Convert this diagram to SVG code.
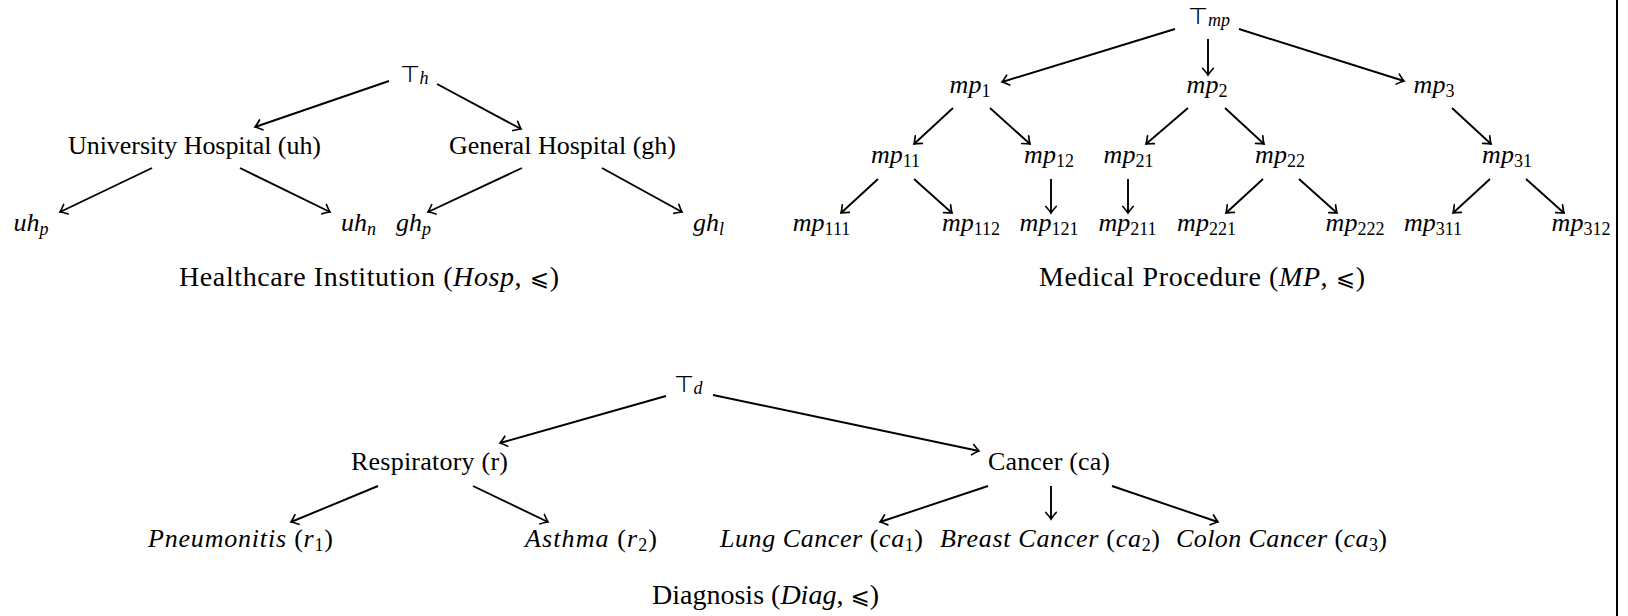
<svg xmlns="http://www.w3.org/2000/svg" width="1628" height="616" viewBox="0 0 1628 616">
<style>
.t{font-family:"Liberation Serif","Times New Roman",serif;font-size:26px;fill:#000;text-anchor:middle}
.cap{font-size:28px}
.m{font-style:italic}
.s{font-size:18px}
.top{font-family:"DejaVu Sans",sans-serif;font-size:23px;font-style:normal;font-weight:300}
.e{fill:none;stroke:#000;stroke-width:1.9;marker-end:url(#arr)}
.sym{font-family:"DejaVu Serif","DejaVu Sans",serif;font-style:normal;font-size:23px}
</style>
<defs>
<marker id="arr" viewBox="-9 -7 11 14" markerWidth="11" markerHeight="14" refX="0" refY="0" orient="auto" markerUnits="userSpaceOnUse">
<path d="M-6.5,-5.2 Q-2,-1.2 0,0 Q-2,1.2 -6.5,5.2" fill="none" stroke="#000" stroke-width="1.7" stroke-linecap="round"/>
</marker>
</defs>
<rect width="1628" height="616" fill="#fff"/>
<g id="connectors">
<path class="e" d="M389,81 L255,127"/>
<path class="e" d="M437,84 L521,129"/>
<path class="e" d="M152,168 L60,212"/>
<path class="e" d="M240,168 L330,212"/>
<path class="e" d="M522,168 L428,212"/>
<path class="e" d="M602,168 L682,212"/>
<path class="e" d="M1175,29 L1002,82"/>
<path class="e" d="M1208,39 L1208,75"/>
<path class="e" d="M1239,29 L1404,81"/>
<path class="e" d="M953,108 L914,144"/>
<path class="e" d="M990,108 L1030,144"/>
<path class="e" d="M1188,108 L1146,144"/>
<path class="e" d="M1225,108 L1264,144"/>
<path class="e" d="M1452,108 L1491,144"/>
<path class="e" d="M878,179 L841,213"/>
<path class="e" d="M914,179 L952,213"/>
<path class="e" d="M1051,179 L1051,213"/>
<path class="e" d="M1128,179 L1128,213"/>
<path class="e" d="M1263,179 L1226,213"/>
<path class="e" d="M1299,179 L1337,213"/>
<path class="e" d="M1490,179 L1453,213"/>
<path class="e" d="M1526,179 L1564,213"/>
<path class="e" d="M666,396 L500,443"/>
<path class="e" d="M713,395 L979,451"/>
<path class="e" d="M378,486 L291,522"/>
<path class="e" d="M473,486 L548,522"/>
<path class="e" d="M988,486 L880,522"/>
<path class="e" d="M1051,486 L1051,519"/>
<path class="e" d="M1112,486 L1218,522"/>
</g>
<g id="hosp">
<g id="top_h"><text class="t" x="414" y="82"><tspan class="top">⊤</tspan><tspan class="m s" dy="2">h</tspan></text></g>
<g id="uh"><text class="t" x="194.5" y="154" textLength="253" lengthAdjust="spacing">University Hospital (uh)</text></g>
<g id="gh"><text class="t" x="562.5" y="154" textLength="227" lengthAdjust="spacing">General Hospital (gh)</text></g>
<g id="uh_p"><text class="t" x="31" y="231"><tspan class="m">uh</tspan><tspan class="m s" dy="4">p</tspan></text></g>
<g id="uh_n"><text class="t" x="358.5" y="231"><tspan class="m">uh</tspan><tspan class="m s" dy="4">n</tspan></text></g>
<g id="gh_p"><text class="t" x="413.5" y="231"><tspan class="m">gh</tspan><tspan class="m s" dy="4">p</tspan></text></g>
<g id="gh_l"><text class="t" x="708.5" y="231"><tspan class="m">gh</tspan><tspan class="m s" dy="4">l</tspan></text></g>
<g id="cap_hosp"><text class="t cap" x="369" y="286" textLength="380" lengthAdjust="spacing">Healthcare Institution (<tspan class="m">Hosp</tspan>, <tspan class="sym">⩽</tspan>)</text></g>
</g>
<g id="mp">
<g id="top_mp"><text class="t" x="1209" y="24"><tspan class="top">⊤</tspan><tspan class="m s" dy="2">mp</tspan></text></g>
<g id="mp1"><text class="t" x="970" y="93"><tspan class="m">mp</tspan><tspan class="s" dy="4">1</tspan></text></g>
<g id="mp2"><text class="t" x="1207" y="93"><tspan class="m">mp</tspan><tspan class="s" dy="4">2</tspan></text></g>
<g id="mp3"><text class="t" x="1434" y="93"><tspan class="m">mp</tspan><tspan class="s" dy="4">3</tspan></text></g>
<g id="mp11"><text class="t" x="895.5" y="163"><tspan class="m">mp</tspan><tspan class="s" dy="4">11</tspan></text></g>
<g id="mp12"><text class="t" x="1049" y="163"><tspan class="m">mp</tspan><tspan class="s" dy="4">12</tspan></text></g>
<g id="mp21"><text class="t" x="1128.5" y="163"><tspan class="m">mp</tspan><tspan class="s" dy="4">21</tspan></text></g>
<g id="mp22"><text class="t" x="1280" y="163"><tspan class="m">mp</tspan><tspan class="s" dy="4">22</tspan></text></g>
<g id="mp31"><text class="t" x="1507" y="163"><tspan class="m">mp</tspan><tspan class="s" dy="4">31</tspan></text></g>
<g id="mp111"><text class="t" x="821.5" y="231"><tspan class="m">mp</tspan><tspan class="s" dy="4">111</tspan></text></g>
<g id="mp112"><text class="t" x="971" y="231"><tspan class="m">mp</tspan><tspan class="s" dy="4">112</tspan></text></g>
<g id="mp121"><text class="t" x="1049" y="231"><tspan class="m">mp</tspan><tspan class="s" dy="4">121</tspan></text></g>
<g id="mp211"><text class="t" x="1127.5" y="231"><tspan class="m">mp</tspan><tspan class="s" dy="4">211</tspan></text></g>
<g id="mp221"><text class="t" x="1206.5" y="231"><tspan class="m">mp</tspan><tspan class="s" dy="4">221</tspan></text></g>
<g id="mp222"><text class="t" x="1355" y="231"><tspan class="m">mp</tspan><tspan class="s" dy="4">222</tspan></text></g>
<g id="mp311"><text class="t" x="1433" y="231"><tspan class="m">mp</tspan><tspan class="s" dy="4">311</tspan></text></g>
<g id="mp312"><text class="t" x="1581" y="231"><tspan class="m">mp</tspan><tspan class="s" dy="4">312</tspan></text></g>
<g id="cap_mp"><text class="t cap" x="1202" y="286" textLength="326" lengthAdjust="spacing">Medical Procedure (<tspan class="m">MP</tspan>, <tspan class="sym">⩽</tspan>)</text></g>
</g>
<g id="diag">
<g id="top_d"><text class="t" x="688" y="392"><tspan class="top">⊤</tspan><tspan class="m s" dy="2">d</tspan></text></g>
<g id="r"><text class="t" x="429.5" y="470" textLength="157" lengthAdjust="spacing">Respiratory (r)</text></g>
<g id="ca"><text class="t" x="1049" y="470" textLength="122" lengthAdjust="spacing">Cancer (ca)</text></g>
<g id="r1"><text class="t" x="240.5" y="547" textLength="185" lengthAdjust="spacing"><tspan class="m">Pneumonitis</tspan> (<tspan class="m">r</tspan><tspan class="s" dy="4">1</tspan><tspan dy="-4">)</tspan></text></g>
<g id="r2"><text class="t" x="591" y="547" textLength="132" lengthAdjust="spacing"><tspan class="m">Asthma</tspan> (<tspan class="m">r</tspan><tspan class="s" dy="4">2</tspan><tspan dy="-4">)</tspan></text></g>
<g id="ca1"><text class="t" x="821.5" y="547" textLength="203" lengthAdjust="spacing"><tspan class="m">Lung Cancer</tspan> (<tspan class="m">ca</tspan><tspan class="s" dy="4">1</tspan><tspan dy="-4">)</tspan></text></g>
<g id="ca2"><text class="t" x="1050" y="547" textLength="220" lengthAdjust="spacing"><tspan class="m">Breast Cancer</tspan> (<tspan class="m">ca</tspan><tspan class="s" dy="4">2</tspan><tspan dy="-4">)</tspan></text></g>
<g id="ca3"><text class="t" x="1281.5" y="547" textLength="211" lengthAdjust="spacing"><tspan class="m">Colon Cancer</tspan> (<tspan class="m">ca</tspan><tspan class="s" dy="4">3</tspan><tspan dy="-4">)</tspan></text></g>
<g id="cap_diag"><text class="t cap" x="765.5" y="604" textLength="227" lengthAdjust="spacing">Diagnosis (<tspan class="m">Diag</tspan>, <tspan class="sym">⩽</tspan>)</text></g>
</g>
<line x1="1617" y1="0" x2="1617" y2="616" stroke="#000" stroke-width="2"/>
</svg>
